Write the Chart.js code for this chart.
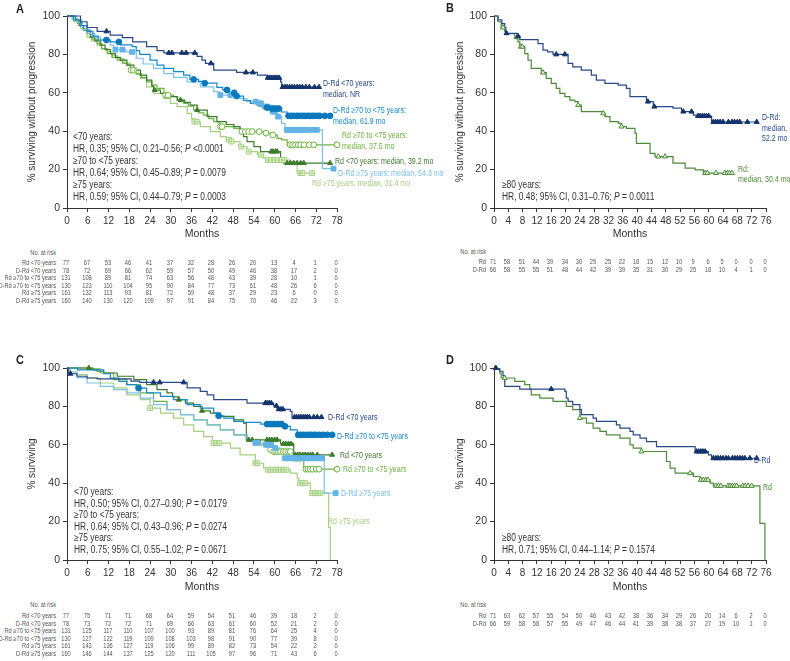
<!DOCTYPE html>
<html>
<head>
<meta charset="utf-8">
<title>PFS and OS by age subgroup</title>
<script src="https://cdn.jsdelivr.net/npm/chart.js"></script>
<style>
  html, body { margin: 0; padding: 0; background: #fff; }
  #page { position: relative; width: 790px; height: 661px; overflow: hidden;
          font-family: "Liberation Sans", Arial, sans-serif; color: #333; }
  #page canvas { position: absolute; }
  .txt { position: absolute; white-space: nowrap; line-height: 1; }
</style>
</head>
<body>
<div id="page">
  <canvas id="chartA" width="400" height="245" style="left:0;top:0"></canvas>
  <canvas id="chartB" width="390" height="245" style="left:400px;top:0"></canvas>
  <canvas id="chartC" width="400" height="270" style="left:0;top:330px"></canvas>
  <canvas id="chartD" width="390" height="270" style="left:400px;top:330px"></canvas>
</div>
<script>
// ---- axis ticks ----
const monthsA = [0, 6, 12, 18, 24, 30, 36, 42, 48, 54, 60, 66, 72, 78];
const monthsB = [0, 4, 8, 12, 16, 20, 24, 28, 32, 36, 40, 44, 48, 52, 56, 60, 64, 68, 72, 76];
const pctTicks = [0, 20, 40, 60, 80, 100];

// ---- A: PFS by age (<70, >=70 to <75, >=75), [month, % surviving] at each step ----
const pfsDRdU70 = [[0,100],[3.9,97],[5.8,94],[8.7,92],[12.5,90],[16,88.7],[19,86.5],[23,84],[26,82],[28,80.8],[37.6,79],[39,77],[40,75.3],[42.4,71.8],[49,70.6],[55,69.2],[57.8,67.8],[61.7,65.7],[62,63],[73.2,63]];
const pfsDRdU70Cens = [11.4,29.4,30.3,33.2,34.4,36.9,41.6,51.7,53.7,58,58.6,59.2,59.8,60.3,60.8,61.3,62.3,63,63.6,64.3,65,65.7,66.5,67.2,68,69,70,71.5,72.8];
const pfsDRd7075 = [[0,100],[2.5,98],[4,95],[5.8,92],[7.5,89.5],[9,87.5],[12.5,86.5],[15.5,85],[18.8,84],[20,82],[21,80],[24,77],[26,74.4],[28,72.7],[30.8,71],[33.7,69.2],[35.5,67],[38,66],[39.5,65],[43.3,62.8],[45,61.5],[47,60],[48.6,58.3],[51,56],[53,54.5],[55.4,53],[57.5,52.3],[59,51.8],[62,50],[63.6,48],[76,48]];
const pfsDRd7075Cens = [11.4,15,36.6,39.8,46.2,48.3,49,57.8,59.2,59.8,60.5,61.2,64,64.8,65.5,66.3,67,67.8,68.5,69.3,70,70.8,71.5,72.3,73,74.5,76];
const pfsDRd75 = [[0,100],[1.5,98.5],[3,96.5],[4.5,93],[6,91],[8,89],[9.6,87.4],[12.5,84.8],[13.5,82.5],[17,81.3],[20,78],[22,75],[25,72.7],[28,70],[30.8,68],[34.7,65.7],[38.5,63.1],[42.4,60.6],[44,58.8],[48,58],[50,57],[52,55.4],[55,54.5],[56.8,52.8],[58.8,50.2],[60.7,47.6],[62,44.1],[63,40.7],[73.8,20.5],[77,20.5]];
const pfsDRd75Cens = [14,16,18.8,44.3,47.2,54.5,55.5,56,57.2,58,59.5,60,61,63.5,64.2,64.8,65.5,66.2,67,67.8,68.5,69.5,71,72.2,77];
const pfsRdU70 = [[0,100],[1.9,97.8],[3.5,95],[4.8,92.6],[6.7,89],[8,87],[9.6,84.8],[11,82.5],[12.5,80.4],[14,78.5],[15.4,77],[17.3,74.4],[19.3,71.8],[21.2,69.2],[23,66.6],[24.5,63.5],[25,61.4],[27,59.7],[28.9,58],[31.8,56.2],[34,55],[35.6,53.6],[37.6,51],[40.5,47.6],[43.3,45],[46,43.5],[48.2,42.4],[50,39.8],[51,37.2],[52,34.6],[54,32],[55.9,29.4],[61.7,25],[62.6,23.4],[76,23.4]];
const pfsRdU70Cens = [25.3,32.8,37.6,59,59.5,60.2,60.7,63.6,64.5,65.5,66.5,67.5,68.4,76];
const pfsRd7075 = [[0,100],[1.5,98.5],[3,96],[4.5,93],[5.8,90.8],[7.2,88],[8.7,85.6],[10,83],[11.6,80.4],[13,78.5],[14.5,77],[16,75.5],[17.3,74.4],[18.3,71.8],[20,70],[21.5,68],[23,65.7],[24.5,64],[26,62.3],[28,58.8],[30.8,58],[32,56],[33.7,54.5],[35,53],[36.6,51],[38,49.5],[39.5,48.4],[41,46.5],[42.4,45],[44,42.4],[48.2,41.5],[50,39.8],[56.8,39],[58.8,38],[60.7,36.3],[62,35.5],[63.6,32.9],[78,32.9]];
const pfsRd7075Cens = [18.5,19.2,28.5,29.2,44.3,44.8,50.5,51.5,52.5,53.5,55.5,57.5,59.5,64.5,65.2,66,66.8,67.5,68.5,70,71.3,78];
const pfsRd75 = [[0,100],[2,97],[3.9,93.4],[5.8,89],[7,87],[8.7,84.8],[10,83],[11.6,81.3],[13,79.5],[14.5,77.9],[16.4,75.3],[18.3,71.8],[20,69.5],[21.2,67.5],[23,63.1],[25,59.7],[28,57],[29.9,54.5],[31.8,52.8],[34.7,49.3],[36,46.5],[36.6,45],[38.5,42.4],[41.4,39.8],[44.3,37.2],[46,35.5],[47.2,34.6],[50,32],[52,29.4],[55,27.7],[56.8,26],[57.5,25],[64.5,24.2],[66.5,18.2],[71.8,18.2]];
const pfsRd75Cens = [19.5,36.8,37.5,46.8,47.5,50.3,52.5,56,58,59,60,61,62,62.8,67.4,68,70.8];

// ---- B: PFS >=80 years ----
const pfs80DRd = [[0,100],[1.1,98],[2.2,96],[3,94],[3.3,91],[6.5,89.5],[7.2,87.7],[12.3,85.6],[13.7,82.2],[15,81.3],[16.5,80],[20.7,75.3],[22,73.5],[24.4,71.8],[27.2,69.2],[28.6,66.6],[31,64.9],[34.7,64],[37,62.3],[38,58],[42.6,55.4],[44.5,52.8],[50,52],[52.4,50.2],[55.7,48.4],[56.5,47.9],[60.8,44.8],[73.9,44.8]];
const pfs80DRdCens = [3.5,6.7,17.4,19.8,43,44.8,52.9,55.2,57,57.6,58.2,58.8,59.4,60,61.3,61.9,62.5,63.2,64,65.5,66.5,67.2,68,68.7,70.8,73.4];
const pfs80Rd = [[0,100],[1.1,97],[2,94],[3,92],[3.5,90.8],[5.8,88.2],[6.7,86.5],[7.2,84],[8.6,80.4],[9.5,77],[10.4,72.7],[13.2,70.5],[14.6,67.5],[16,64.9],[17.4,62.3],[18.4,59.7],[19.8,58],[21.2,56.2],[22.6,55.4],[23.5,53.6],[24.4,50.2],[30.5,49.3],[31,47.6],[32.4,45],[34.7,44.1],[35.6,42.4],[37,41.5],[39.4,39],[39.8,33.7],[43.6,28.5],[45,26.8],[50,23.4],[53.4,20.8],[56.2,19.9],[58.5,18.2],[66.9,18.2]];
const pfs80RdCens = [2.5,7.5,7.9,13.7,23.5,30.5,35.6,45.9,47.8,59,59.6,62,64.5,65.2,65.8,66.5];

// ---- C: OS by age ----
const osDRdU70 = [[0,100],[0.5,97],[2.9,95.7],[5.8,94.8],[8.7,94.3],[18.5,93.2],[21,92.5],[34.7,89.6],[38.5,87.8],[40.5,86],[42.4,83.5],[52,81.7],[59.7,80.3],[60.7,78.5],[64.5,77.4],[65,74.4],[74,74.4]];
const osDRdU70Cens = [1,25,26.8,33.7,57.3,57.8,58.4,59,60.5,61.2,61.8,62.4,65.7,66.3,67,67.6,68.2,68.8,69.4,70,71.3,72.3,73.5];
const osDRd7075 = [[0,100],[3,99],[10.6,97],[12.5,94.8],[15,93],[17.3,91.3],[20,89.5],[23,87],[27,85.2],[30.8,83.5],[34.7,80.9],[38.5,79.1],[42.4,76.5],[43.8,75.1],[45.3,73.9],[48.2,72.2],[51,71.7],[56,70.8],[62.6,69.6],[64.5,67.8],[66.5,65.2],[76.6,65.2]];
const osDRd7075Cens = [20.7,43.8,57.8,58.5,59.2,60,60.7,61.5,62,63,66.8,67.5,68.2,69,69.8,70.5,71.3,72,73,74,75.2,76.6];
const osDRd75 = [[0,100],[1,97.4],[2.9,95],[5.8,92.2],[9.6,90.4],[13.5,88.7],[17.3,87],[21.2,84.3],[25,80.9],[28.9,78.3],[32.8,75.7],[36.6,73],[40.5,70.4],[44.3,67.8],[48.2,65.2],[52,62.6],[54,61],[56.8,60],[59.7,58.3],[61.7,55.7],[62.6,53],[74.3,34.8],[77.6,34.8]];
const osDRd75Cens = [54.4,55,57.5,58.3,59,60.2,63,63.8,64.5,65.2,66,66.7,67.5,68.3,69,69.8,70.5,71.3,72,72.8,73.7,77.6];
const osRdU70 = [[0,100],[7.5,99],[8.7,98.3],[10.6,97.4],[14.5,95.7],[19.3,93.9],[23,91.3],[26,88.7],[28.9,87],[30.5,85],[32.3,83.5],[34.2,81.7],[36.6,80],[39,77.7],[41.4,76.5],[44.3,74.8],[48.2,73],[51,71.3],[51.8,62.6],[61.7,60.5],[65.5,54.8],[76.6,54.8]];
const osRdU70Cens = [6.3,32.3,39,52.5,53.5,57.8,58.5,59.2,60,60.7,62.5,63.2,64,64.8,66,66.7,67.4,68.1,68.8,69.5,70.3,71,72.3,76.6];
const osRd7075 = [[0,100],[6,99.5],[9.6,97.4],[13.5,93.9],[17.3,91.3],[21.2,87],[25,82.6],[28.9,78.3],[32.8,75.7],[36.6,73],[40.5,70.4],[44.3,67.8],[48.2,65.2],[52,62.6],[55.9,60],[58.5,57.5],[59.7,56.5],[65.5,53],[68.4,47.3],[78,47.3]];
const osRd7075Cens = [58.8,59.7,60.3,61,61.7,62.5,63.2,64,64.5,66,66.7,67.4,69,69.6,70.3,71,72,72.8,78];
const osRd75 = [[0,100],[1,98],[2.9,96.5],[5.8,94.8],[9.6,92.2],[13.5,89.6],[17.3,86],[21.2,83.5],[24,79.1],[27,76.5],[30.8,73.9],[33.7,70.4],[36.6,67],[39.5,64.3],[42,60.9],[47.2,58.3],[50,54.8],[54.4,50.4],[56.8,47.8],[57.8,47],[64.5,45.2],[66.5,42.6],[67,40],[70.3,34.8],[75.6,17],[76.1,0]];
const osRd75Cens = [24,42.3,43.2,44,54.4,55,58,58.8,59.5,60.3,61,61.8,62.6,63.4,67.3,68,68.8,70.8,71.6,72.4,73.2];

// ---- D: OS >=80 years ----
const os80DRd = [[0,100],[0.7,99.5],[1.6,98.3],[2.5,96],[3,90.4],[7.2,89],[19.8,87.8],[20.2,84.3],[20.7,82.6],[22,80.9],[24,78.3],[24.4,75.7],[27.7,73.9],[28.6,72.2],[34.2,70.4],[35.2,68.7],[38,67],[38.9,65.2],[40.8,63.5],[42.6,61.7],[45.4,59.1],[56.2,56.5],[59.9,54.8],[60.8,53],[73.9,53]];
const os80DRdCens = [0.5,16,56.6,57.2,57.8,58.4,59,61.3,62,62.6,63.3,64,64.8,65.5,66.6,67.3,68,68.7,69.4,70.1,71.5,73.4];
const os80Rd = [[0,100],[0.7,99.5],[1.6,97.4],[2,94.8],[5.8,93],[8.6,91.3],[10,89],[10.4,86],[12.8,84.3],[16.5,82.6],[20.2,80],[22,78.3],[24,73.9],[25.8,71.3],[27.7,68.7],[29.6,67],[31.4,65.2],[35.2,63.5],[38,60],[38.9,58.3],[41.2,56.5],[48.2,51.3],[49.2,47.8],[50.6,45.2],[55.7,43.5],[57.6,41.7],[60.4,40],[61.3,38.6],[74.3,19.1],[75.7,0]];
const os80RdCens = [0.5,3,24,41.2,54.8,57.8,58.5,59.2,59.8,62,62.7,63.4,65.4,66,66.6,67.2,67.8,69.5,70.2,71,72];

// ---- numbers at risk ----
const ageLabels = ['Rd &lt;70 years', 'D-Rd &lt;70 years', 'Rd \u226570 to &lt;75 years', 'D-Rd \u226570 to &lt;75 years', 'Rd \u226575 years', 'D-Rd \u226575 years'];
const riskPfsRdU70 = [77, 67, 53, 46, 41, 37, 32, 28, 26, 20, 13, 4, 1, 0];
const riskPfsDRdU70 = [78, 72, 69, 66, 62, 59, 57, 50, 49, 46, 38, 17, 2, 0];
const riskPfsRd7075 = [131, 108, 89, 81, 74, 63, 56, 48, 43, 39, 28, 10, 1, 0];
const riskPfsDRd7075 = [130, 123, 110, 104, 95, 90, 84, 77, 73, 61, 48, 26, 6, 0];
const riskPfsRd75 = [161, 132, 113, 93, 81, 72, 59, 48, 37, 29, 23, 6, 0, 0];
const riskPfsDRd75 = [160, 140, 130, 120, 109, 97, 91, 84, 75, 70, 46, 22, 3, 0];
const riskOsRdU70 = [77, 75, 71, 71, 68, 64, 59, 54, 51, 46, 39, 18, 2, 0];
const riskOsDRdU70 = [78, 73, 72, 72, 71, 69, 66, 63, 61, 60, 52, 21, 2, 0];
const riskOsRd7075 = [131, 125, 117, 110, 107, 100, 93, 89, 81, 76, 64, 25, 4, 0];
const riskOsDRd7075 = [130, 127, 122, 119, 109, 108, 103, 98, 91, 90, 77, 39, 8, 0];
const riskOsRd75 = [161, 143, 136, 127, 119, 106, 99, 89, 82, 73, 54, 22, 2, 0];
const riskOsDRd75 = [160, 146, 144, 137, 125, 120, 111, 105, 97, 96, 71, 43, 6, 0];
const riskPfs80Rd = [71, 58, 51, 44, 39, 34, 30, 29, 25, 22, 18, 15, 12, 10, 9, 6, 5, 0, 0, 0];
const riskPfs80DRd = [66, 58, 55, 55, 51, 48, 44, 42, 39, 39, 35, 31, 30, 29, 25, 18, 10, 4, 1, 0];
const riskOs80Rd = [71, 63, 62, 57, 55, 54, 50, 46, 43, 42, 38, 36, 34, 29, 26, 20, 14, 6, 2, 0];
const riskOs80DRd = [66, 59, 58, 58, 57, 55, 49, 47, 46, 44, 41, 39, 38, 38, 37, 27, 19, 10, 1, 0];

// ---- styles ----
const NAVY = '#27498a', BLUE = '#1589cf', LBLUE = '#7cc0ea';
const DGREEN = '#3d7b2d', GREEN = '#6cb43f', LGREEN = '#a3d17f', GREEN80 = '#4c8b36';
const TXT = '#333', RISK = '#555';
const NARROW = 0.84; // reference type is a condensed face

const sty = {
  drdU70: { line: NAVY, mark: 'triangle', fill: '#12336b', edge: '#12336b' },
  drd7075: { line: BLUE, mark: 'circle', fill: '#0a78bd', edge: '#0a78bd' },
  drd75: { line: LBLUE, mark: 'rect', fill: '#63b3e7', edge: '#63b3e7', r: 3.4 },
  rdU70: { line: DGREEN, mark: 'triangle', fill: '#3d7b2d', edge: '#3d7b2d' },
  rd7075: { line: GREEN, mark: 'circle', fill: '#ffffff', edge: GREEN },
  rd75: { line: LGREEN, mark: 'rect', fill: '#f2f9ec', edge: LGREEN, r: 3.4, cross: true },
  drd80: { line: NAVY, mark: 'triangle', fill: '#12336b', edge: '#12336b' },
  rd80: { line: GREEN80, mark: 'triangle', fill: '#e9f3e2', edge: GREEN80 }
};

Chart.defaults.font.family = '"Liberation Sans", Arial, sans-serif';
Chart.defaults.color = TXT;

function survAt(curve, t) {
  let s = curve[0][1];
  for (const [x, y] of curve) { if (x <= t) s = y; else break; }
  return s;
}

function buildSets(series) {
  const sets = [];
  series.forEach(s => {
    const marks = s.cens.map(t => ({ x: t, y: survAt(s.curve, t) }));
    sets.push({ data: s.curve.map(([x, y]) => ({ x, y })), borderColor: s.line, borderWidth: 1.2,
                stepped: true, pointRadius: 0, fill: false, clip: false, order: 2 });
    sets.push({ data: marks, showLine: false, pointStyle: s.mark, pointRadius: s.r || 2.9,
                backgroundColor: s.fill, borderColor: s.edge, borderWidth: 1, clip: false, order: 1 });
    if (s.cross) {
      sets.push({ data: marks, showLine: false, pointStyle: 'cross', pointRadius: 2.2,
                  borderColor: s.edge, borderWidth: 0.8, clip: false, order: 0 });
    }
  });
  return sets;
}

function kmChart(id, g, months, yTitle, series) {
  return new Chart(document.getElementById(id), {
    type: 'line',
    data: { datasets: buildSets(series) },
    options: {
      responsive: false,
      animation: false,
      events: [],
      layout: { padding: { top: g.padTop, right: g.padRight, bottom: 0, left: 0 } },
      plugins: { legend: { display: false }, tooltip: { enabled: false } },
      scales: {
        x: {
          type: 'linear',
          min: months[0],
          max: months[months.length - 1],
          afterBuildTicks: s => { s.ticks = months.map(v => ({ value: v })); },
          afterFit: s => { s.height = g.xh; s.paddingLeft = 0; s.paddingRight = 0; },
          ticks: { font: { size: 10 }, color: TXT, padding: 3, maxRotation: 0, autoSkip: false },
          grid: { drawOnChartArea: false, tickLength: 4, color: TXT },
          border: { color: TXT, width: 1 },
          title: { display: true, text: 'Months', font: { size: 10.5 }, color: TXT,
                   padding: { top: 0, bottom: g.xTitlePad } }
        },
        y: {
          min: 0,
          max: 100,
          afterBuildTicks: s => { s.ticks = pctTicks.map(v => ({ value: v })); },
          afterFit: s => { s.width = g.yw; s.paddingTop = 0; s.paddingBottom = 0; },
          ticks: { font: { size: 10.5 }, color: TXT, padding: 3 },
          grid: { drawOnChartArea: false, tickLength: 4, color: TXT },
          border: { color: TXT, width: 1 },
          title: { display: true, text: yTitle, font: { size: 10 }, color: TXT,
                   padding: { top: g.yTitlePad, bottom: 0 } }
        }
      }
    }
  });
}

const page = document.getElementById('page');
function put(html, x, y, size, color, align, extra) {
  const d = document.createElement('div');
  d.className = 'txt';
  d.innerHTML = html;
  d.style.left = x + 'px';
  d.style.top = y + 'px';
  d.style.fontSize = size + 'px';
  d.style.color = color || TXT;
  const tx = align === 'right' ? '-100%' : align === 'center' ? '-50%' : '0';
  const ox = align === 'right' ? '100%' : align === 'center' ? '50%' : '0';
  d.style.transformOrigin = ox + ' 50%';
  d.style.transform = 'translate(' + tx + ', -50%) scaleX(' + NARROW + ')';
  if (extra) d.style.cssText += extra;
  page.appendChild(d);
}

function riskTable(chart, offX, months, names, rows, headY, labelRight, y0, gap) {
  put('No. at risk', labelRight, headY, 6.8, RISK, 'right');
  rows.forEach((vals, i) => {
    const y = y0 + i * gap;
    put(names[i], labelRight, y, 6.8, RISK, 'right');
    vals.forEach((v, j) => put(String(v), offX + chart.scales.x.getPixelForValue(months[j]) - 1, y, 6.8, RISK, 'center'));
  });
}

// ---- panels ----
const geoLeftTop = { padTop: 16, padRight: 63, yw: 67, xh: 37, yTitlePad: 26, xTitlePad: 5 };
const geoRightTop = { padTop: 16, padRight: 24, yw: 94, xh: 37, yTitlePad: 54, xTitlePad: 5 };
const geoLeftBot = { padTop: 38, padRight: 63, yw: 67, xh: 40, yTitlePad: 26, xTitlePad: 7 };
const geoRightBot = { padTop: 38, padRight: 24, yw: 94, xh: 40, yTitlePad: 54, xTitlePad: 7 };

const chartA = kmChart('chartA', geoLeftTop, monthsA, '% surviving without progression', [
  { curve: pfsDRdU70, cens: pfsDRdU70Cens, ...sty.drdU70 },
  { curve: pfsDRd7075, cens: pfsDRd7075Cens, ...sty.drd7075 },
  { curve: pfsDRd75, cens: pfsDRd75Cens, ...sty.drd75 },
  { curve: pfsRdU70, cens: pfsRdU70Cens, ...sty.rdU70 },
  { curve: pfsRd7075, cens: pfsRd7075Cens, ...sty.rd7075 },
  { curve: pfsRd75, cens: pfsRd75Cens, ...sty.rd75 }
]);
const chartB = kmChart('chartB', geoRightTop, monthsB, '% surviving without progression', [
  { curve: pfs80DRd, cens: pfs80DRdCens, ...sty.drd80 },
  { curve: pfs80Rd, cens: pfs80RdCens, ...sty.rd80 }
]);
const chartC = kmChart('chartC', geoLeftBot, monthsA, '% surviving', [
  { curve: osDRdU70, cens: osDRdU70Cens, ...sty.drdU70 },
  { curve: osDRd7075, cens: osDRd7075Cens, ...sty.drd7075 },
  { curve: osDRd75, cens: osDRd75Cens, ...sty.drd75 },
  { curve: osRdU70, cens: osRdU70Cens, ...sty.rdU70 },
  { curve: osRd7075, cens: osRd7075Cens, ...sty.rd7075 },
  { curve: osRd75, cens: osRd75Cens, ...sty.rd75 }
]);
const chartD = kmChart('chartD', geoRightBot, monthsB, '% surviving', [
  { curve: os80DRd, cens: os80DRdCens, ...sty.drd80 },
  { curve: os80Rd, cens: os80RdCens, ...sty.rd80 }
]);

// panel letters
put('A', 16, 8, 13, '#222', 'left', 'font-weight:bold;');
put('B', 446, 7, 13, '#222', 'left', 'font-weight:bold;');
put('C', 16, 359, 13, '#222', 'left', 'font-weight:bold;');
put('D', 446, 359, 13, '#222', 'left', 'font-weight:bold;');

// hazard ratio notes
const HS = 10;
const hrA = ['&lt;70 years:', 'HR, 0.35; 95% CI, 0.21\u20130.56; <i>P</i> &lt;0.0001', '\u226570 to &lt;75 years:',
             'HR, 0.64; 95% CI, 0.45\u20130.89; <i>P</i> = 0.0079', '\u226575 years:', 'HR, 0.59; 95% CI, 0.44\u20130.79; <i>P</i> = 0.0003'];
hrA.forEach((s, i) => put(s, 73, 137 + i * 12, HS, TXT));
const hrC = ['&lt;70 years:', 'HR, 0.50; 95% CI, 0.27\u20130.90; <i>P</i> = 0.0179', '\u226570 to &lt;75 years:',
             'HR, 0.64; 95% CI, 0.43\u20130.96; <i>P</i> = 0.0274', '\u226575 years:', 'HR, 0.75; 95% CI, 0.55\u20131.02; <i>P</i> = 0.0671'];
hrC.forEach((s, i) => put(s, 74, 492 + i * 11.5, HS, TXT));
put('\u226580 years:', 502, 185, HS, TXT);
put('HR, 0.48; 95% CI, 0.31\u20130.76; <i>P</i> = 0.0011', 502, 197, HS, TXT);
put('\u226580 years:', 502, 538, HS, TXT);
put('HR, 0.71; 95% CI, 0.44\u20131.14; <i>P</i> = 0.1574', 502, 550, HS, TXT);

// curve labels
const LS = 8.4;
put('D-Rd &lt;70 years:', 323, 83, LS, NAVY);
put('median, NR', 323, 94, LS, NAVY);
put('D-Rd \u226570 to &lt;75 years:', 333, 110, LS, BLUE);
put('median, 61.9 mo', 333, 121, LS, BLUE);
put('Rd \u226570 to &lt;75 years:', 342, 135, LS, GREEN);
put('median, 37.5 mo', 342, 146, LS, GREEN);
put('Rd &lt;70 years: median, 39.2 mo', 335, 161, LS, DGREEN);
put('D-Rd \u226575 years: median, 54.3 mo', 338, 173, LS, LBLUE);
put('Rd \u226575 years: median, 31.4 mo', 312, 183, LS, LGREEN);

put('D-Rd:', 762, 117, LS, NAVY);
put('median,', 762, 128, LS, NAVY);
put('52.2 mo', 762, 138, LS, NAVY);
put('Rd:', 738, 169, LS, GREEN80);
put('median, 30.4 mo', 738, 179, LS, GREEN80);

put('D-Rd &lt;70 years', 328, 417, LS, NAVY);
put('D-Rd \u226570 to &lt;75 years', 337, 436, LS, BLUE);
put('Rd &lt;70 years', 340, 455, LS, DGREEN);
put('Rd \u226570 to &lt;75 years', 343, 469, LS, GREEN);
put('D-Rd \u226575 years', 341, 493, LS, LBLUE);
put('Rd \u226575 years', 328, 521, LS, LGREEN);

put('D-Rd', 754, 460, LS, NAVY);
put('Rd', 763, 487, LS, GREEN80);

// numbers at risk
riskTable(chartA, 0, monthsA, ageLabels,
  [riskPfsRdU70, riskPfsDRdU70, riskPfsRd7075, riskPfsDRd7075, riskPfsRd75, riskPfsDRd75], 253, 56, 263, 7.6);
riskTable(chartC, 0, monthsA, ageLabels,
  [riskOsRdU70, riskOsDRdU70, riskOsRd7075, riskOsDRd7075, riskOsRd75, riskOsDRd75], 605, 56, 616, 7.6);
riskTable(chartB, 400, monthsB, ['Rd', 'D-Rd'], [riskPfs80Rd, riskPfs80DRd], 252, 486, 262, 8);
riskTable(chartD, 400, monthsB, ['Rd', 'D-Rd'], [riskOs80Rd, riskOs80DRd], 605, 486, 616, 7.6);
</script>
</body>
</html>
